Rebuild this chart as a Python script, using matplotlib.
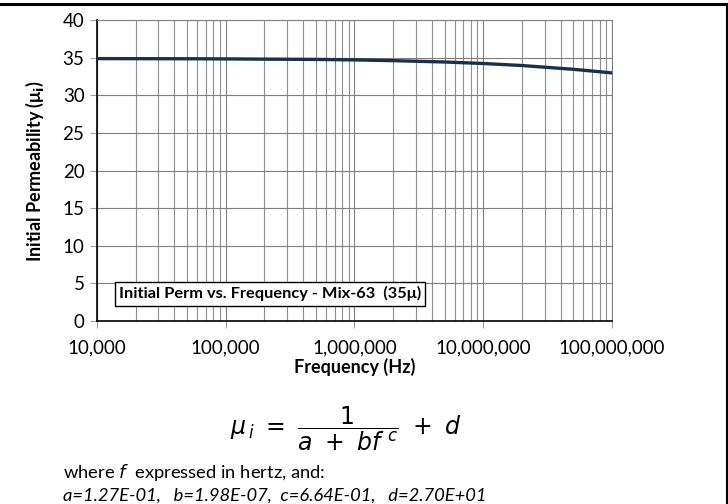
import matplotlib
matplotlib.use("Agg")
import matplotlib.pyplot as plt
import matplotlib.ticker as mticker
from matplotlib.lines import Line2D

# ── DATA ────────────────────────────────────────────────────
freq_hz = [1e4, 2e4, 5e4, 1e5, 2e5, 5e5, 1e6, 2e6, 5e6, 1e7, 2e7, 5e7, 1e8]
mu_i = [34.87, 34.86, 34.85, 34.83, 34.80, 34.76, 34.70, 34.60, 34.42, 34.22, 33.95, 33.45, 32.97]

y_ticks = [0, 5, 10, 15, 20, 25, 30, 35, 40]
x_ticks = [1e4, 1e5, 1e6, 1e7, 1e8]
x_tick_labels = ["10,000", "100,000", "1,000,000", "10,000,000", "100,000,000"]

plt.rcParams["font.family"] = ["Lato", "DejaVu Sans"]
plt.rcParams["mathtext.fontset"] = "dejavusans"

fig = plt.figure(figsize=(7.28, 5.04), dpi=100)
ax = fig.add_axes([0.1332, 0.3631, 0.7075, 0.5972])

ax.plot(freq_hz, mu_i, color="#17304f", linewidth=2.4, zorder=3)

ax.set_xscale("log")
ax.set_xlim(1e4, 1e8)
ax.set_ylim(0, 40)
ax.set_yticks(y_ticks)
ax.set_xticks(x_ticks)
ax.set_xticklabels(x_tick_labels)
ax.xaxis.set_minor_locator(mticker.LogLocator(base=10, subs=range(2, 10), numticks=20))
ax.xaxis.set_minor_formatter(mticker.NullFormatter())

ax.grid(True, which="major", color="#7f7f7f", linewidth=0.8)
ax.grid(True, which="minor", axis="x", color="#8f8f8f", linewidth=0.8)
ax.tick_params(axis="both", which="major", labelsize=13.5, length=5, color="#a0a0a0", width=0.8)
ax.tick_params(axis="x", which="minor", length=0)
ax.tick_params(axis="x", pad=8)
ax.tick_params(axis="y", pad=4)

for s in ["top", "right"]:
    ax.spines[s].set_color("#808080")
    ax.spines[s].set_linewidth(0.8)
for s in ["left", "bottom"]:
    ax.spines[s].set_color("black")
    ax.spines[s].set_linewidth(1.2)

ax.set_xlabel("Frequency (Hz)", fontsize=13, fontweight="bold", labelpad=1)
ax.set_ylabel(r"Initial Permeability (μ$_\mathbf{i}$)", fontsize=13, fontweight="bold", labelpad=12)

ax.text(0.043, 0.09, "Initial Perm vs. Frequency - Mix-63  (35μ)", transform=ax.transAxes,
        fontsize=11.8, fontweight="bold", va="center", ha="left", zorder=5,
        bbox=dict(boxstyle="square,pad=0.25", facecolor="white", edgecolor="black", linewidth=1))

# formula below the chart
fig.text(0.475, 0.150, r"$\mu_{\,i}\ =\ \dfrac{1}{a\ +\ bf^{\ c}}\ +\ d$", fontsize=17,
         ha="center", va="center")
fig.text(0.087, 0.062, "where $f$  expressed in hertz, and:", fontsize=13.2, ha="left", va="center")
fig.text(0.087, 0.016, "a=1.27E-01,   b=1.98E-07,  c=6.64E-01,   d=2.70E+01", fontsize=13.2,
         style="italic", ha="left", va="center")

# outer frame lines
fig.add_artist(Line2D([0, 1], [0.993, 0.993], transform=fig.transFigure, color="black", linewidth=2.2))
fig.add_artist(Line2D([0.998, 0.998], [0, 0.993], transform=fig.transFigure, color="black", linewidth=1.5))

fig.savefig("out.png", dpi=100)
